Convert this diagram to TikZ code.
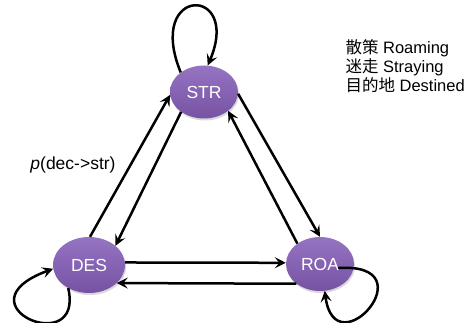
\documentclass[tikz,border=0pt]{standalone}
\usepackage{fontspec}
\setmainfont{Liberation Sans}
\newfontfamily\cjk{Noto Sans CJK JP}
\usetikzlibrary{arrows.meta,shapes.geometric,shadows,calc}
\definecolor{stTop}{HTML}{9574C2}
\definecolor{stBot}{HTML}{7752A3}
\begin{document}
\begin{tikzpicture}[x=1pt,y=-1pt,
  state/.style={ellipse, inner sep=0pt, minimum width=68pt, minimum height=53pt,
    top color=stTop, bottom color=stBot, draw=none, text=white,
    font=\fontsize{17.5}{20}\selectfont,
    drop shadow={opacity=0.3, shadow xshift=1pt, shadow yshift=-2pt}},
  arr/.style={line width=2.5pt, -{Stealth[length=11pt,width=11pt,inset=4.5pt]}},
  lbl/.style={font=\fontsize{16.5}{19}\selectfont}
]
\useasboundingbox (0,0) rectangle (475,323);
\node[state] (STR) at (204,92) {STR};
\node[state, minimum width=72pt, minimum height=56pt] (DES) at (89,265) {DES};
\node[state, minimum height=54pt] (ROA) at (320,264) {ROA};

\draw[arr] (DES.88) -- (STR.185);
\draw[arr] (STR.221) -- (DES.36);
\draw[arr] (STR.357) -- (ROA.90);
\draw[arr] (ROA.138) -- (STR.322);
\draw[arr] (DES.4) -- (ROA.178);
\draw[arr] (ROA.220) -- (DES.327);

\draw[arr] (STR.140) .. controls (145,-15) and (242,-15) .. (STR.82);
\draw[arr] (DES.228) .. controls (85,360) and (-45,305) .. (DES.186);
\draw[arr] ($(ROA)+(18,4)$) .. controls (430,262) and (335,370) .. (ROA.280);

\node[lbl, font=\fontsize{17.5}{20}\selectfont] (lab) at (73,165) {\textit{p}(dec->str)};
\node[lbl, anchor=west, align=left] (legend) at (342,66)
  {{\cjk 散策} Roaming\\{\cjk 迷走} Straying\\{\cjk 目的地} Destined};
\end{tikzpicture}
\end{document}
